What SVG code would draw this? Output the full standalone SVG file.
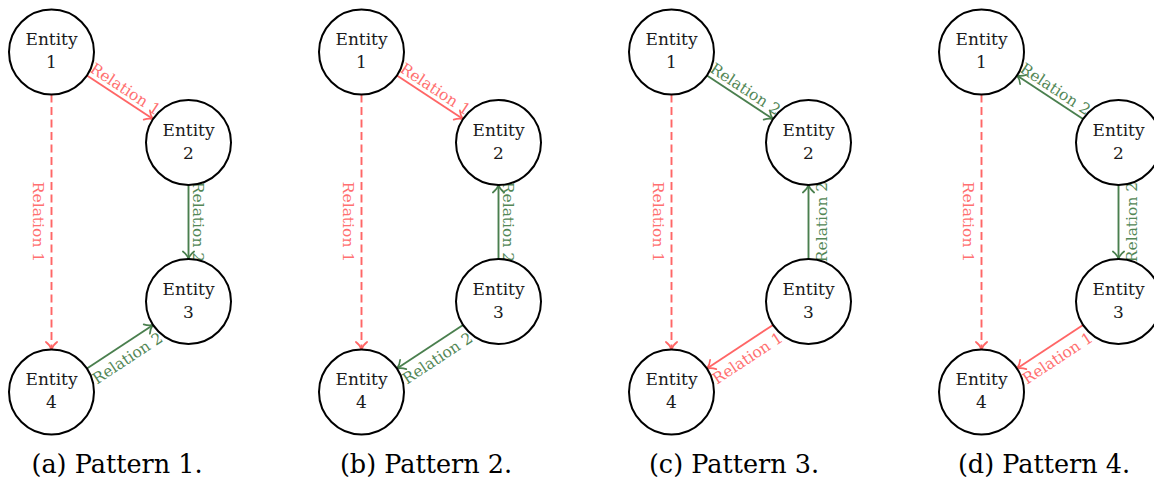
<svg xmlns="http://www.w3.org/2000/svg" width="1154" height="482" viewBox="0 0 1154 482">
  <style>
    text { font-family: "DejaVu Serif", "Liberation Serif", serif; }
    .ent { fill: #ffffff; stroke: #000000; stroke-width: 2; }
    .etxt { font-size: 17px; fill: #1a1a1a; text-anchor: middle; }
    .lbl { font-size: 15.5px; text-anchor: middle; }
    .red { stroke: #ff6666; }
    .green { stroke: #4a7f4e; }
    .tred { fill: #ff7070; }
    .tgreen { fill: #538756; }
    .edge { fill: none; stroke-width: 1.9; }
    .dash { stroke-dasharray: 8 4.5; }
    .cap { font-size: 25.5px; fill: #000000; text-anchor: middle; }
  </style>
  <defs>
    <marker id="tip-red" viewBox="-10 -8 12 16" markerWidth="12" markerHeight="16" refX="0" refY="0" orient="auto" markerUnits="userSpaceOnUse">
      <path d="M-7.5,-5.6 C-5.2,-2.6 -2.4,-0.7 0,0 C-2.4,0.7 -5.2,2.6 -7.5,5.6" fill="none" stroke="#ff6666" stroke-width="1.7" stroke-linecap="round"/>
    </marker>
    <marker id="tip-green" viewBox="-10 -8 12 16" markerWidth="12" markerHeight="16" refX="0" refY="0" orient="auto" markerUnits="userSpaceOnUse">
      <path d="M-7.5,-5.6 C-5.2,-2.6 -2.4,-0.7 0,0 C-2.4,0.7 -5.2,2.6 -7.5,5.6" fill="none" stroke="#4a7f4e" stroke-width="1.7" stroke-linecap="round"/>
    </marker>
    <!-- the four entities, shared by every pattern -->
    <g id="entity-1"><circle class="ent" cx="51.5" cy="52" r="42.5"/><text class="etxt" x="51.5" y="45">Entity</text><text class="etxt" x="51.5" y="68">1</text></g>
    <g id="entity-2"><circle class="ent" cx="188.5" cy="142.5" r="42.5"/><text class="etxt" x="188.5" y="135.5">Entity</text><text class="etxt" x="188.5" y="158.5">2</text></g>
    <g id="entity-3"><circle class="ent" cx="188.5" cy="301.5" r="42.5"/><text class="etxt" x="188.5" y="294.5">Entity</text><text class="etxt" x="188.5" y="317.5">3</text></g>
    <g id="entity-4"><circle class="ent" cx="51.5" cy="392" r="42.5"/><text class="etxt" x="51.5" y="385">Entity</text><text class="etxt" x="51.5" y="408">4</text></g>
  </defs>

  <!-- (a) Pattern 1 -->
  <g id="pattern-a">
    <g id="a-connectors">
      <path class="edge red" d="M86.96,75.43 L153.04,119.07" marker-end="url(#tip-red)"/>
      <text class="lbl tred" transform="translate(120,97.25) rotate(33.44)" y="-4.5">Relation 1</text>
      <path class="edge red dash" d="M51.5,94.5 L51.5,349.5" marker-end="url(#tip-red)"/>
      <text class="lbl tred" transform="translate(51.5,222) rotate(90)" y="19">Relation 1</text>
      <path class="edge green" d="M188.5,185 L188.5,259" marker-end="url(#tip-green)"/>
      <text class="lbl tgreen" transform="translate(188.5,222) rotate(90)" y="-4.5">Relation 2</text>
      <path class="edge green" d="M86.96,368.57 L153.04,324.93" marker-end="url(#tip-green)"/>
      <text class="lbl tgreen" transform="translate(120,346.75) rotate(-33.44)" y="19">Relation 2</text>
    </g>
    <g id="a-entity-1"><use href="#entity-1"/></g>
    <g id="a-entity-2"><use href="#entity-2"/></g>
    <g id="a-entity-3"><use href="#entity-3"/></g>
    <g id="a-entity-4"><use href="#entity-4"/></g>
    <text class="cap" x="117" y="473">(a) Pattern 1.</text>
  </g>

  <!-- (b) Pattern 2 -->
  <g id="pattern-b" transform="translate(310,0)">
    <g id="b-connectors">
      <path class="edge red" d="M86.96,75.43 L153.04,119.07" marker-end="url(#tip-red)"/>
      <text class="lbl tred" transform="translate(120,97.25) rotate(33.44)" y="-4.5">Relation 1</text>
      <path class="edge red dash" d="M51.5,94.5 L51.5,349.5" marker-end="url(#tip-red)"/>
      <text class="lbl tred" transform="translate(51.5,222) rotate(90)" y="19">Relation 1</text>
      <path class="edge green" d="M188.5,259 L188.5,185" marker-end="url(#tip-green)"/>
      <text class="lbl tgreen" transform="translate(188.5,222) rotate(90)" y="-4.5">Relation 2</text>
      <path class="edge green" d="M153.04,324.93 L86.96,368.57" marker-end="url(#tip-green)"/>
      <text class="lbl tgreen" transform="translate(120,346.75) rotate(-33.44)" y="19">Relation 2</text>
    </g>
    <g id="b-entity-1"><use href="#entity-1"/></g>
    <g id="b-entity-2"><use href="#entity-2"/></g>
    <g id="b-entity-3"><use href="#entity-3"/></g>
    <g id="b-entity-4"><use href="#entity-4"/></g>
    <text class="cap" x="116" y="473">(b) Pattern 2.</text>
  </g>

  <!-- (c) Pattern 3 -->
  <g id="pattern-c" transform="translate(620,0)">
    <g id="c-connectors">
      <path class="edge green" d="M86.96,75.43 L153.04,119.07" marker-end="url(#tip-green)"/>
      <text class="lbl tgreen" transform="translate(120,97.25) rotate(33.44)" y="-4.5">Relation 2</text>
      <path class="edge red dash" d="M51.5,94.5 L51.5,349.5" marker-end="url(#tip-red)"/>
      <text class="lbl tred" transform="translate(51.5,222) rotate(90)" y="19">Relation 1</text>
      <path class="edge green" d="M188.5,259 L188.5,185" marker-end="url(#tip-green)"/>
      <text class="lbl tgreen" transform="translate(188.5,222) rotate(-90)" y="18.5">Relation 2</text>
      <path class="edge red" d="M153.04,324.93 L86.96,368.57" marker-end="url(#tip-red)"/>
      <text class="lbl tred" transform="translate(120,346.75) rotate(-33.44)" y="19">Relation 1</text>
    </g>
    <g id="c-entity-1"><use href="#entity-1"/></g>
    <g id="c-entity-2"><use href="#entity-2"/></g>
    <g id="c-entity-3"><use href="#entity-3"/></g>
    <g id="c-entity-4"><use href="#entity-4"/></g>
    <text class="cap" x="114" y="473">(c) Pattern 3.</text>
  </g>

  <!-- (d) Pattern 4 -->
  <g id="pattern-d" transform="translate(930,0)">
    <g id="d-connectors">
      <path class="edge green" d="M153.04,119.07 L86.96,75.43" marker-end="url(#tip-green)"/>
      <text class="lbl tgreen" transform="translate(120,97.25) rotate(33.44)" y="-4.5">Relation 2</text>
      <path class="edge red dash" d="M51.5,94.5 L51.5,349.5" marker-end="url(#tip-red)"/>
      <text class="lbl tred" transform="translate(51.5,222) rotate(90)" y="19">Relation 1</text>
      <path class="edge green" d="M188.5,185 L188.5,259" marker-end="url(#tip-green)"/>
      <text class="lbl tgreen" transform="translate(188.5,222) rotate(-90)" y="18.5">Relation 2</text>
      <path class="edge red" d="M153.04,324.93 L86.96,368.57" marker-end="url(#tip-red)"/>
      <text class="lbl tred" transform="translate(120,346.75) rotate(-33.44)" y="19">Relation 1</text>
    </g>
    <g id="d-entity-1"><use href="#entity-1"/></g>
    <g id="d-entity-2"><use href="#entity-2"/></g>
    <g id="d-entity-3"><use href="#entity-3"/></g>
    <g id="d-entity-4"><use href="#entity-4"/></g>
    <text class="cap" x="114" y="473">(d) Pattern 4.</text>
  </g>
</svg>
